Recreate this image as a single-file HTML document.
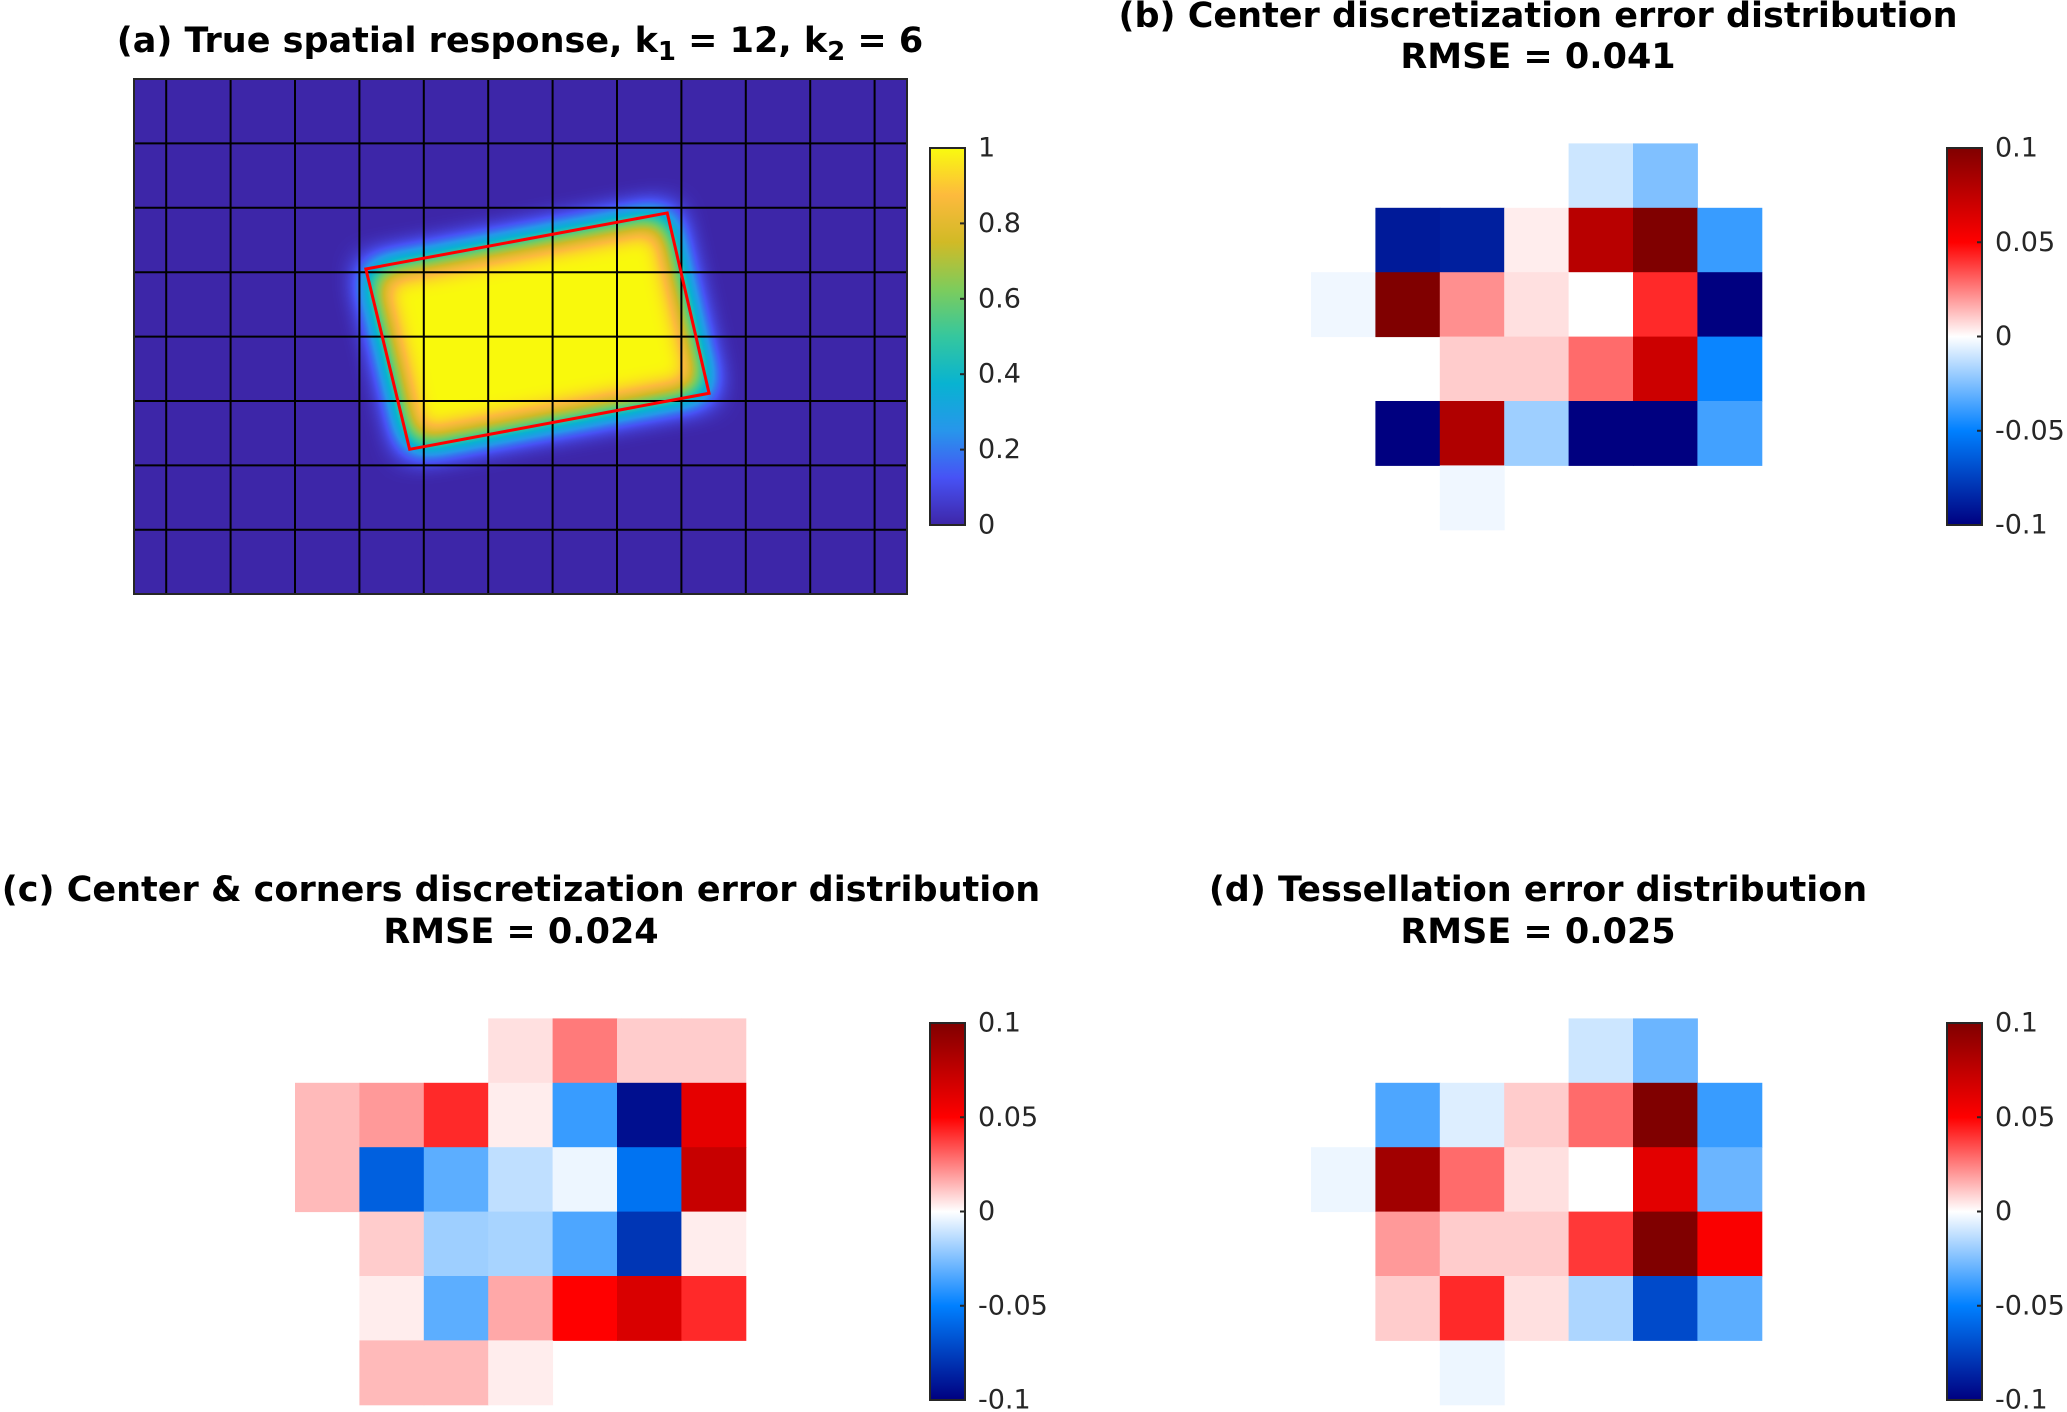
<!DOCTYPE html>
<html><head><meta charset="utf-8"><style>
html,body{margin:0;padding:0;background:#fff;}
svg{display:block;}
text{font-family:"DejaVu Sans","Liberation Sans",sans-serif;}
</style></head>
<body>
<svg id="fig" width="2067" height="1412" viewBox="0 0 2067 1412" xmlns="http://www.w3.org/2000/svg">
<defs>
<filter id="parula" x="-20%" y="-20%" width="140%" height="140%" color-interpolation-filters="sRGB">
<feGaussianBlur stdDeviation="16"/>
<feComponentTransfer>
<feFuncR type="table" tableValues="0.24 0.28 0.15 0.03 0.21 0.49 0.82 0.99 0.98"/>
<feFuncG type="table" tableValues="0.15 0.32 0.59 0.70 0.78 0.80 0.73 0.73 0.98"/>
<feFuncB type="table" tableValues="0.66 0.96 0.92 0.82 0.62 0.36 0.15 0.24 0.05"/>
</feComponentTransfer>
</filter>
<linearGradient id="parulaBar" x1="0" y1="1" x2="0" y2="0">
<stop offset="0" stop-color="#3e26a8"/><stop offset="0.125" stop-color="#4752f5"/>
<stop offset="0.25" stop-color="#2796eb"/><stop offset="0.375" stop-color="#08b3d1"/>
<stop offset="0.5" stop-color="#35c79e"/><stop offset="0.625" stop-color="#7dcc5c"/>
<stop offset="0.75" stop-color="#d1ba26"/><stop offset="0.875" stop-color="#fdba3d"/>
<stop offset="1" stop-color="#f9fb0e"/>
</linearGradient>
<linearGradient id="divBar" x1="0" y1="1" x2="0" y2="0">
<stop offset="0" stop-color="#000080"/><stop offset="0.25" stop-color="#0080ff"/>
<stop offset="0.5" stop-color="#ffffff"/><stop offset="0.75" stop-color="#ff0000"/>
<stop offset="1" stop-color="#800000"/>
</linearGradient>
<clipPath id="clipA"><rect x="134" y="79" width="773" height="515"/></clipPath>
</defs>
</svg>
<script>
// ---- data ----
const cbDivTicks = [0.1, 0.05, 0, -0.05, -0.1];
const cbDivLabels = ["0.1", "0.05", "0", "-0.05", "-0.1"];
const cbParTicks = [1, 0.8, 0.6, 0.4, 0.2, 0];
const cbParLabels = ["1", "0.8", "0.6", "0.4", "0.2", "0"];
const errColStart = 2, errRowStart = 1;
const errB = [
 [null,null,null,null,-0.01,-0.025,null],
 [null,-0.09,-0.088,0.0035,0.078,0.1,-0.039],
 [-0.003,0.1,0.022,0.006,0,0.042,-0.1],
 [null,null,0.01,0.01,0.029,0.07,-0.048],
 [null,-0.1,0.081,-0.019,-0.1,-0.1,-0.037],
 [null,null,-0.003,null,null,null,null]
];
const errC = [
 [null,null,null,0.006,0.026,0.01,0.01],
 [0.0135,0.02,0.042,0.0035,-0.039,-0.094,0.06],
 [0.0135,-0.0625,-0.032,-0.0125,-0.0035,-0.055,0.072],
 [null,0.01,-0.019,-0.017,-0.035,-0.079,0.0035],
 [null,0.0035,-0.032,0.017,0.05,0.065,0.042],
 [null,0.0135,0.0135,0.0035,null,null,null]
];
const errD = [
 [null,null,null,null,-0.01,-0.029,null],
 [null,-0.035,-0.0066,0.01,0.029,0.1,-0.039],
 [-0.0035,0.087,0.029,0.006,0,0.061,-0.029],
 [null,0.02,0.01,0.01,0.039,0.1,0.052],
 [null,0.01,0.042,0.006,-0.016,-0.071,-0.032],
 [null,null,-0.0035,null,null,null,null]
];
const polyCols = [3.1, 7.78, 8.43, 3.78];
const polyRows = [2.95, 2.08, 4.88, 5.75];
const nCols = 12, nRows = 8;

const NS = "http://www.w3.org/2000/svg";
const svg = document.getElementById("fig");
const CELL = 64.4;
function mk(tag, attrs, parent){ const e=document.createElementNS(NS,tag); for(const k in attrs) e.setAttribute(k,attrs[k]); (parent||svg).appendChild(e); return e; }

function divColor(v){
  const stops=[[-0.1,[0,0,128]],[-0.05,[0,128,255]],[0,[255,255,255]],[0.05,[255,0,0]],[0.1,[128,0,0]]];
  v=Math.max(-0.1,Math.min(0.1,v));
  for(let i=0;i<stops.length-1;i++){
    const [a,ca]=stops[i],[b,cb]=stops[i+1];
    if(v<=b){const t=(v-a)/(b-a);return "rgb("+ca.map((c,j)=>Math.round(c+(cb[j]-c)*t)).join(",")+")";}
  }
  return "rgb(128,0,0)";
}

function title(lines, cx, ys, name){
  lines.forEach((ln,i)=>{
    const t=mk("text",{x:cx,y:ys[i],"text-anchor":"middle","dominant-baseline":"central","font-size":"35","font-weight":"bold",fill:"#000"});
    
    
    t.textContent=ln;
  });
}

function colorbar(x,y,h,fill,ticks,labels,vmin,vmax,name){
  const g=mk("g",{});
  
  
  mk("rect",{x:x,y:y,width:35,height:h,fill:fill,stroke:"#262626","stroke-width":"2"},g);
  ticks.forEach((v,i)=>{
    const yy=y+h*(vmax-v)/(vmax-vmin);
    if(v!==vmin && v!==vmax) mk("line",{x1:x+30,x2:x+35,y1:yy,y2:yy,stroke:"#262626","stroke-width":"2"},g);
    const t=mk("text",{x:x+48,y:yy,"dominant-baseline":"central","font-size":"27",fill:"#262626"},g);
    
    
    t.textContent=labels[i];
  });
}

function errPanel(data, ax, ay, name){
  const g=mk("g",{});
  
  
  const xs=c=>ax+CELL/2+CELL*(errColStart+c);
  const ys=r=>ay+CELL*(errRowStart+r);
  data.forEach((row,r)=>row.forEach((v,c)=>{
    if(v===null) return;
    const e=mk("rect",{x:xs(c),y:ys(r),width:CELL+0.5,height:CELL+0.5,fill:divColor(v)},g);
    
    
  }));
}

// ---- panel (a) ----
const AX=134, AY=79, AW=773, AH=515;
const ga=mk("g",{"clip-path":"url(#clipA)"});


const px=c=>AX+CELL/2+CELL*c, py=r=>AY+CELL*r;
const gf=mk("g",{filter:"url(#parula)"},ga);
mk("rect",{x:AX-80,y:AY-80,width:AW+160,height:AH+160,fill:"#000"},gf);
const ptsStr=polyCols.map((c,i)=>px(c)+","+py(polyRows[i])).join(" ");
mk("polygon",{points:ptsStr,fill:"#fff"},gf);
for(let k=0;k<nCols;k++){ const l=mk("line",{x1:px(k),x2:px(k),y1:AY,y2:AY+AH,stroke:"#000","stroke-width":"2"},ga);   }
for(let k=1;k<nRows;k++){ const l=mk("line",{x1:AX,x2:AX+AW,y1:py(k),y2:py(k),stroke:"#000","stroke-width":"2"},ga);   }
const poly=mk("polygon",{points:ptsStr,fill:"none",stroke:"#ff0000","stroke-width":"3"},ga);


mk("rect",{x:AX,y:AY,width:AW,height:AH,fill:"none",stroke:"#262626","stroke-width":"2"});

const ta=mk("text",{x:520,y:41,"text-anchor":"middle","dominant-baseline":"central","font-size":"35","font-weight":"bold",fill:"#000"});


ta.innerHTML='(a) True spatial response, k<tspan font-size="26" dy="11">1</tspan><tspan dy="-11"> = 12, k</tspan><tspan font-size="26" dy="11">2</tspan><tspan dy="-11"> = 6</tspan>';
colorbar(930,148,377,"url(#parulaBar)",cbParTicks,cbParLabels,0,1,"colorbar-a");

// ---- panels b, c, d ----
errPanel(errB,1150,79,"error-heatmap-b");
errPanel(errC,134,954,"error-heatmap-c");
errPanel(errD,1150,954,"error-heatmap-d");
title(["(b) Center discretization error distribution","RMSE = 0.041"],1538,[16,57],"title-b");
title(["(c) Center & corners discretization error distribution","RMSE = 0.024"],521,[890,932],"title-c");
title(["(d) Tessellation error distribution","RMSE = 0.025"],1538,[890,932],"title-d");
colorbar(1947,148,377,"url(#divBar)",cbDivTicks,cbDivLabels,-0.1,0.1,"colorbar-b");
colorbar(930,1023,377,"url(#divBar)",cbDivTicks,cbDivLabels,-0.1,0.1,"colorbar-c");
colorbar(1947,1023,377,"url(#divBar)",cbDivTicks,cbDivLabels,-0.1,0.1,"colorbar-d");
</script>
</body></html>
